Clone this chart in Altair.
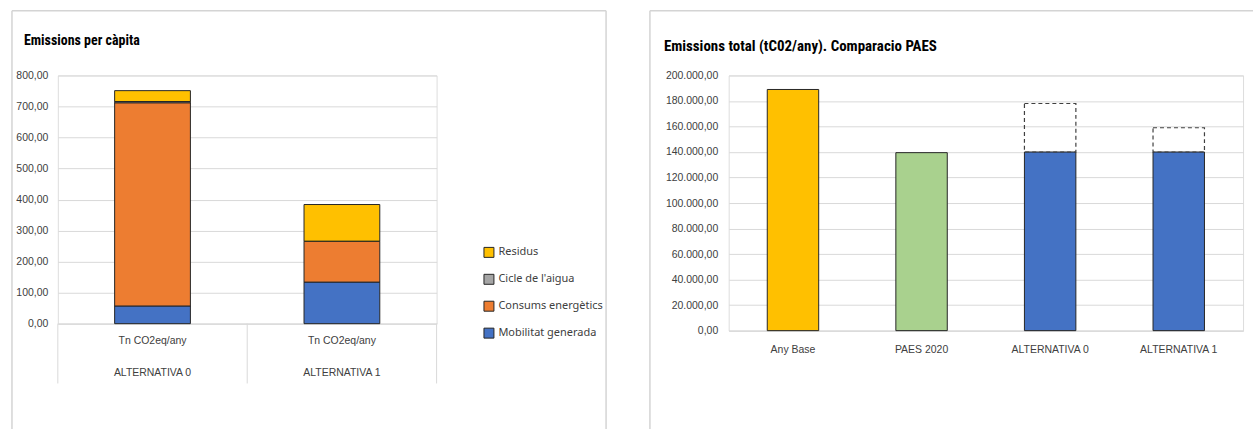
import altair as alt
import pandas as pd

# ---------------- data ----------------
alternatives = ["ALTERNATIVA 0", "ALTERNATIVA 1"]
sources = ["Mobilitat generada", "Consums energètics", "Cicle de l'aigua", "Residus"]
mobilitat = [57, 134]
consums = [655, 131]
cicle = [4, 1]
residus = [35, 118]
legend_order = ["Residus", "Cicle de l'aigua", "Consums energètics", "Mobilitat generada"]
legend_colors = ["#FFC000", "#A5A5A5", "#ED7D31", "#4472C4"]
left_ticks = [0, 100, 200, 300, 400, 500, 600, 700, 800]

bar_cats = ["Any Base", "PAES 2020", "ALTERNATIVA 0", "ALTERNATIVA 1"]
bar_values = [189000, 139500, 140000, 140000]
bar_colors = ["#FFC000", "#A9D18E", "#4472C4", "#4472C4"]
dashed_cats = ["ALTERNATIVA 0", "ALTERNATIVA 1"]
dashed_base = [140000, 140000]
dashed_tops = [178000, 159000]
right_ticks = [0, 20000, 40000, 60000, 80000, 100000, 120000, 140000, 160000, 180000, 200000]

NARROW = "Roboto Condensed, Liberation Sans Narrow, Liberation Sans, sans-serif"
LABEL = "Liberation Sans, Arial, sans-serif"
GRID = "#D9D9D9"
BORDER = "#D4D4D4"

rows = []
series = [mobilitat, consums, cicle, residus]
for i, alt_name in enumerate(alternatives):
    for k, src in enumerate(sources):
        rows.append({"alt": alt_name, "src": src, "ord": k, "val": series[k][i]})
stack_df = pd.DataFrame(rows)
cat_df = pd.DataFrame({"alt": alternatives, "last": [False, True]})
dummy = pd.DataFrame({"a": [0]})

fmt_expr = "replace(replace(replace(format(datum.value, ',.2f'), ',', '#'), '.', ','), '#', '.')"

# ---------------- left chart ----------------
LW, LH = 380, 249
xs_left = alt.Scale(domain=alternatives, paddingInner=0.6, paddingOuter=0.3)
ys_left = alt.Scale(domain=[0, 800], nice=False)

bars_left = alt.Chart(stack_df).mark_bar(stroke="#262626", strokeWidth=1).encode(
    x=alt.X("alt:N", scale=xs_left, sort=alternatives, title=None,
            axis=alt.Axis(labelExpr="['Tn CO2eq/any', datum.label]", labelLineHeight=32,
                          labelBaseline="top", labelPadding=12, labelAngle=0,
                          labelFont=LABEL, labelFontSize=10.5, labelColor="#404040",
                          ticks=False, domainColor=GRID, grid=False)),
    y=alt.Y("val:Q", stack="zero", title=None, scale=ys_left,
            axis=alt.Axis(values=left_ticks, labelExpr="replace(format(datum.value, '.2f'), '.', ',')",
                          labelFont=LABEL, labelFontSize=10.5, labelColor="#404040",
                          labelPadding=10, ticks=False, domain=False,
                          gridColor=GRID, gridWidth=1)),
    color=alt.Color("src:N", scale=alt.Scale(domain=legend_order, range=legend_colors),
                    legend=alt.Legend(title=None, orient="none", legendX=427, legendY=172,
                                      symbolType="square", symbolSize=100,
                                      symbolStrokeColor="#262626", symbolStrokeWidth=1,
                                      labelFont="Noto Sans", labelFontSize=11,
                                      labelColor="#404040", labelOffset=4, rowPadding=12)),
    order=alt.Order("ord:Q"),
)

sep_rules = alt.Chart(cat_df).mark_rule(color=GRID, xOffset=-95).encode(
    x=alt.X("alt:N", scale=xs_left, sort=alternatives),
    y=alt.value(LH), y2=alt.value(LH + 60),
)
sep_last = alt.Chart(cat_df).transform_filter("datum.last").mark_rule(color=GRID, xOffset=95).encode(
    x=alt.X("alt:N", scale=xs_left, sort=alternatives),
    y=alt.value(LH), y2=alt.value(LH + 60),
)

title_left = alt.Chart(dummy).mark_text(
    text="Emissions per càpita", align="left", baseline="middle",
    font=NARROW, fontSize=14, fontWeight="bold", color="#000000"
).encode(x=alt.value(-34), y=alt.value(-35))

b_left = alt.Chart(dummy).mark_rule(color=BORDER, strokeWidth=1.5).encode(
    x=alt.value(-46), y=alt.value(-65), y2=alt.value(355))
b_top = alt.Chart(dummy).mark_rule(color=BORDER, strokeWidth=1.5).encode(
    x=alt.value(-46), x2=alt.value(550), y=alt.value(-65))
b_right = alt.Chart(dummy).mark_rule(color=BORDER, strokeWidth=1.5).encode(
    x=alt.value(550), y=alt.value(-65), y2=alt.value(355))

left = alt.layer(bars_left, sep_rules, sep_last, title_left, b_left, b_top, b_right).properties(
    width=LW, height=LH)

# ---------------- right chart ----------------
RW, RH = 516, 256
bar_df = pd.DataFrame({"cat": bar_cats, "val": bar_values})
dash_df = pd.DataFrame({"cat": dashed_cats, "base": dashed_base, "top": dashed_tops})
xs_right = alt.Scale(domain=bar_cats, paddingInner=0.6, paddingOuter=0.3)
ys_right = alt.Scale(domain=[0, 200000], nice=False)

x_axis_right = alt.Axis(labelAngle=0, labelBaseline="top", labelPadding=14,
                        labelFont=LABEL, labelFontSize=10.5, labelColor="#404040",
                        ticks=False, domainColor=GRID, grid=False)
y_axis_right = alt.Axis(values=right_ticks, labelExpr=fmt_expr,
                        labelFont=LABEL, labelFontSize=10.5, labelColor="#404040",
                        labelPadding=11, ticks=False, domain=False,
                        gridColor=GRID, gridWidth=1)

bars_right = alt.Chart(bar_df).mark_bar(stroke="#262626", strokeWidth=1).encode(
    x=alt.X("cat:N", scale=xs_right, sort=bar_cats, title=None, axis=x_axis_right),
    y=alt.Y("val:Q", scale=ys_right, title=None, axis=y_axis_right),
    color=alt.Color("cat:N", scale=alt.Scale(domain=bar_cats, range=bar_colors), legend=None),
)

dashed = alt.Chart(dash_df).mark_bar(fill="#FFFFFF", fillOpacity=0, stroke="#404040",
                                     strokeWidth=1.2, strokeDash=[4, 3]).encode(
    x=alt.X("cat:N", scale=xs_right, sort=bar_cats, title=None, axis=x_axis_right),
    y=alt.Y("base:Q", scale=ys_right, title=None, axis=y_axis_right),
    y2="top:Q",
)

title_right = alt.Chart(dummy).mark_text(
    text="Emissions total (tC02/any). Comparacio PAES", align="left", baseline="middle",
    font=NARROW, fontSize=15, fontWeight="bold", color="#000000"
).encode(x=alt.value(-65), y=alt.value(-30))

rb_left = alt.Chart(dummy).mark_rule(color=BORDER, strokeWidth=1.5).encode(
    x=alt.value(-79), y=alt.value(-65), y2=alt.value(355))
rb_top = alt.Chart(dummy).mark_rule(color=BORDER, strokeWidth=1.5).encode(
    x=alt.value(-79), x2=alt.value(526), y=alt.value(-65))

right = alt.layer(bars_right, dashed, title_right, rb_left, rb_top).properties(
    width=RW, height=RH)

chart = alt.hconcat(left, right, spacing=40).resolve_scale(color="independent").properties(
    padding={"left": 10, "top": 8, "right": 0, "bottom": 0}
).configure_view(stroke=None).configure(background="#FFFFFF")

chart.save("out.html", embed_options={"renderer": "svg", "actions": False})
